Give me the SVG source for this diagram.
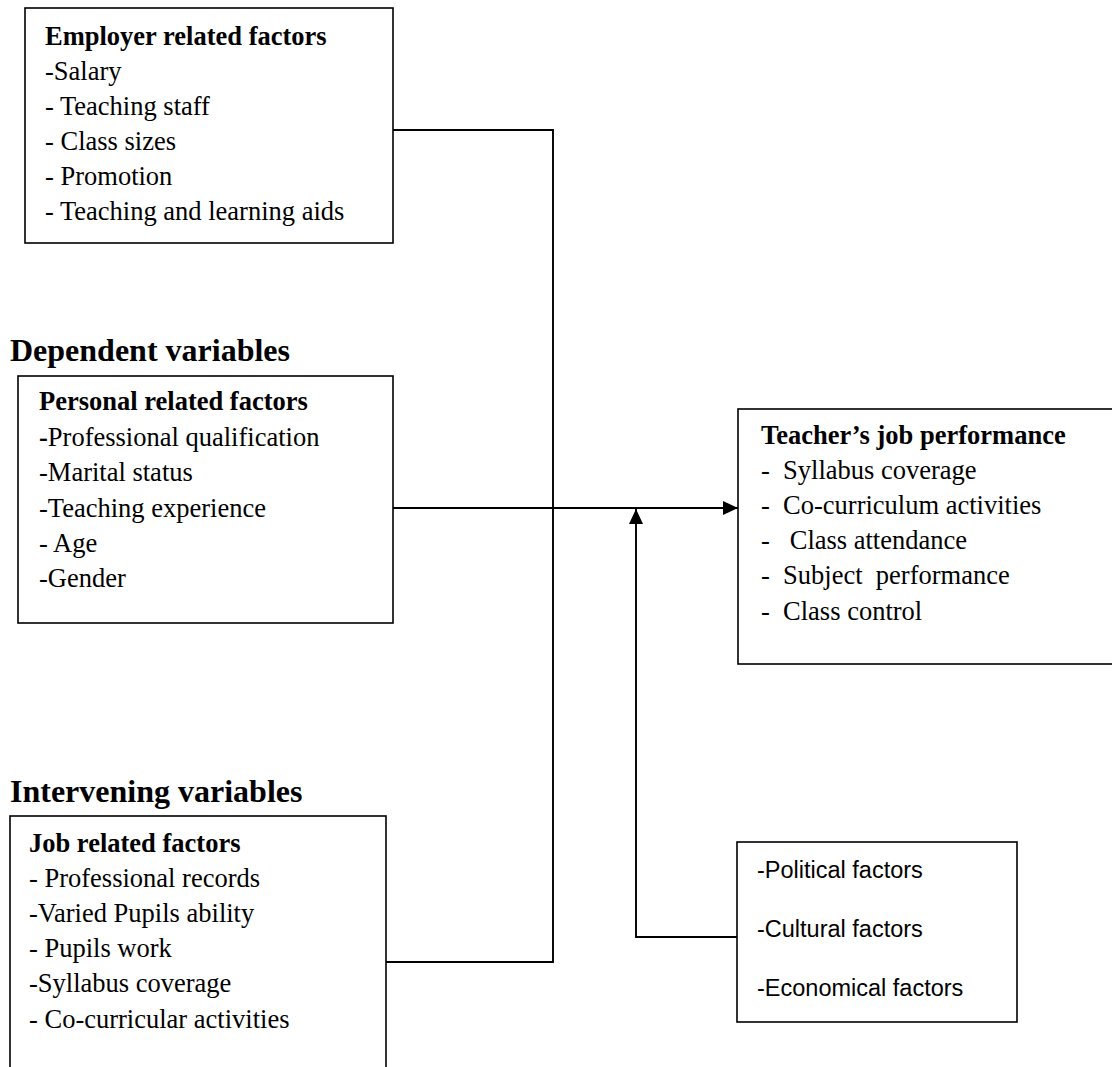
<svg xmlns="http://www.w3.org/2000/svg" width="1112" height="1067" viewBox="0 0 1112 1067">
<defs>
<style>
.box{fill:#fff;stroke:#000;stroke-width:1.6}
.t{font-family:"Liberation Serif","Times New Roman",serif;font-size:26.5px;fill:#000;white-space:pre}
.b{font-weight:bold}
.h{font-family:"Liberation Serif","Times New Roman",serif;font-size:32px;font-weight:bold;fill:#000}
.s{font-family:"Liberation Sans",Arial,sans-serif;font-size:23.5px;fill:#000}
.ln{fill:none;stroke:#000;stroke-width:1.9}
</style>
<marker id="arr" viewBox="0 0 15 14" refX="15" refY="7" markerWidth="15" markerHeight="14" markerUnits="userSpaceOnUse" orient="auto">
<path d="M0,0 L15,7 L0,14 Z" fill="#000"/>
</marker>
</defs>
<rect width="1112" height="1067" fill="#fff"/>
<text class="h" x="10" y="361">Dependent variables</text>
<text class="h" x="10" y="802">Intervening variables</text>
<g id="employer">
<rect class="box" x="25" y="8" width="368" height="235"/>
<text class="t b" x="45" y="45">Employer related factors</text>
<text class="t" x="45" y="80">-Salary</text>
<text class="t" x="45" y="115">- Teaching staff</text>
<text class="t" x="45" y="150">- Class sizes</text>
<text class="t" x="45" y="185">- Promotion</text>
<text class="t" x="45" y="220">- Teaching and learning aids</text>
</g>
<g id="personal">
<rect class="box" x="18" y="376" width="375" height="247"/>
<text class="t b" x="39" y="410">Personal related factors</text>
<text class="t" x="39" y="446"><tspan font-weight="bold">-</tspan>Professional qualification</text>
<text class="t" x="39" y="481">-Marital status</text>
<text class="t" x="39" y="517">-Teaching experience</text>
<text class="t" x="39" y="552">- Age</text>
<text class="t" x="39" y="587">-Gender</text>
</g>
<g id="job">
<rect class="box" x="10" y="816" width="376" height="270"/>
<text class="t b" x="29" y="852">Job related factors</text>
<text class="t" x="29" y="887">- Professional records</text>
<text class="t" x="29" y="922">-Varied Pupils ability</text>
<text class="t" x="29" y="957">- Pupils work</text>
<text class="t" x="29" y="992">-Syllabus coverage</text>
<text class="t" x="29" y="1028">- Co-curricular activities</text>
</g>
<g id="performance">
<rect class="box" x="738" y="409" width="390" height="255"/>
<text class="t b" x="761" y="444">Teacher’s job performance</text>
<text class="t" x="761" y="479">-  Syllabus coverage</text>
<text class="t" x="761" y="514">-  Co-curriculum activities</text>
<text class="t" x="761" y="549">-   Class attendance</text>
<text class="t" x="761" y="584">-  Subject  performance</text>
<text class="t" x="761" y="620">-  Class control</text>
</g>
<g id="external">
<rect class="box" x="737" y="842" width="280" height="180"/>
<text class="s" x="757" y="878">-Political factors</text>
<text class="s" x="757" y="937">-Cultural factors</text>
<text class="s" x="757" y="996">-Economical factors</text>
</g>
<g id="connectors">
<polyline class="ln" points="393,130 553,130 553,962 386,962"/>
<line class="ln" x1="393" y1="508" x2="738" y2="508" marker-end="url(#arr)"/>
<polyline class="ln" points="737,937 636,937 636,509" marker-end="url(#arr)"/>
</g>
</svg>
